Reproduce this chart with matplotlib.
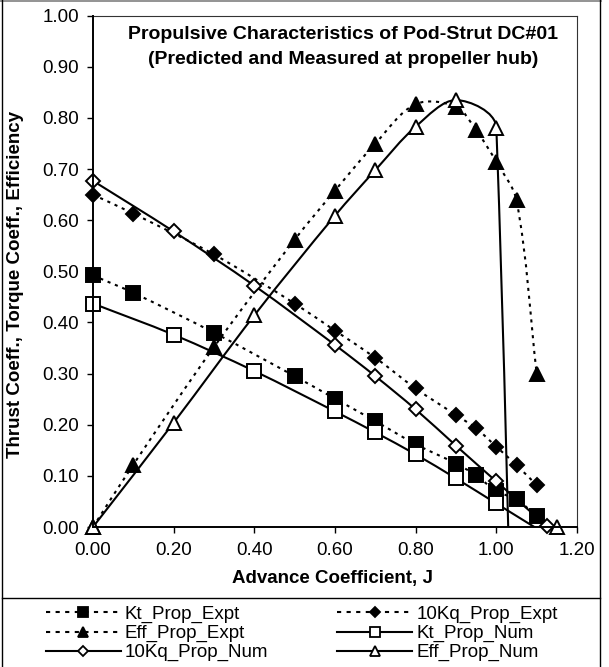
import numpy as np
import matplotlib
matplotlib.use("Agg")
import matplotlib.pyplot as plt
from matplotlib.path import Path
from matplotlib.patches import PathPatch
from matplotlib.lines import Line2D

# ---------------- data ----------------
J_expt = [0.0, 0.1, 0.3, 0.5, 0.6, 0.7, 0.8, 0.9, 0.95, 1.0, 1.05, 1.1]
kt_expt = [0.492, 0.458, 0.380, 0.295, 0.251, 0.207, 0.162, 0.124, 0.101, 0.070, 0.054, 0.021]
kq10_expt = [0.650, 0.613, 0.533, 0.437, 0.384, 0.331, 0.271, 0.219, 0.193, 0.157, 0.121, 0.082]
eff_expt = [0.0, 0.122, 0.352, 0.562, 0.658, 0.750, 0.827, 0.822, 0.776, 0.714, 0.639, 0.300]

J_num = [0.0, 0.2, 0.4, 0.6, 0.7, 0.8, 0.9, 1.0, 1.125]
kt_num = [0.437, 0.376, 0.305, 0.226, 0.185, 0.142, 0.095, 0.046, -0.015]
kq10_num = [0.677, 0.578, 0.472, 0.356, 0.295, 0.230, 0.159, 0.089, 0.002]
J_eff_num = [0.0, 0.2, 0.4, 0.6, 0.7, 0.8, 0.9, 1.0, 1.125, 1.15]
eff_num = [0.0, 0.204, 0.414, 0.609, 0.698, 0.783, 0.835, 0.781, -4.0, 0.0]

x_ticks = [0.0, 0.2, 0.4, 0.6, 0.8, 1.0, 1.2]
y_ticks = [0.0, 0.1, 0.2, 0.3, 0.4, 0.5, 0.6, 0.7, 0.8, 0.9, 1.0]

title_lines = ["Propulsive Characteristics of Pod-Strut DC#01",
               "(Predicted and Measured at propeller hub)"]
x_label = "Advance Coefficient, J"
y_label = "Thrust Coeff., Torque Coeff., Efficiency"

# ---------------- layout ----------------
W, H = 609, 667
DPI = 100
plt.rcParams['font.family'] = ['Liberation Sans', 'DejaVu Sans']

fig = plt.figure(figsize=(W / DPI, H / DPI), dpi=DPI)

def fx(px):
    return px / W

def fy(py):
    return 1 - py / H

ax_l, ax_r, ax_t, ax_b = 93, 577, 15.7, 527
ax = fig.add_axes([fx(ax_l), fy(ax_b), fx(ax_r - ax_l), (ax_b - ax_t) / H])
ax.set_xlim(0, 1.2)
ax.set_ylim(0, 1.0)
ax.set_xticks(x_ticks)
ax.set_yticks(y_ticks)
ax.set_xticklabels([f"{v:.2f}" for v in x_ticks])
ax.set_yticklabels([f"{v:.2f}" for v in y_ticks])
ax.tick_params(direction='out', length=4, width=1.0, labelsize=13.5, color='black')
ax.tick_params(axis='y', pad=6)
ax.tick_params(axis='x', pad=7)
for s in ['left', 'bottom']:
    ax.spines[s].set_linewidth(1.4)
    ax.spines[s].set_color('black')
for s in ['top', 'right']:
    ax.spines[s].set_linewidth(0.8)
    ax.spines[s].set_color('#333333')
ax.spines['left'].set_zorder(30)
ax.spines['bottom'].set_zorder(30)


def smooth_patch(xs, ys, **kw):
    pts = ax.transData.transform(np.column_stack([xs, ys]))
    n = len(pts)
    verts = [pts[0]]
    codes = [Path.MOVETO]
    for i in range(n - 1):
        p0 = pts[i - 1] if i > 0 else pts[i]
        p1 = pts[i]
        p2 = pts[i + 1]
        p3 = pts[i + 2] if i + 2 < n else pts[i + 1]
        d01 = np.hypot(*(p1 - p0))
        d12 = np.hypot(*(p2 - p1))
        d23 = np.hypot(*(p3 - p2))
        f1 = d12 / (d01 + d12) / 3 if d01 + d12 > 0 else 0
        f2 = d12 / (d12 + d23) / 3 if d12 + d23 > 0 else 0
        c1 = p1 + (p2 - p0) * f1
        c2 = p2 - (p3 - p1) * f2
        verts += [c1, c2, p2]
        codes += [Path.CURVE4] * 3
    verts = ax.transData.inverted().transform(np.array(verts))
    patch = PathPatch(Path(verts, codes), fill=False, **kw)
    ax.add_patch(patch)
    return patch


DOT = (0, (1.5, 2.3))
LEG_DOT = (0, (2.0, 2.6))
series = [
    (J_expt, kt_expt, 's', 'black', DOT, 9.5, 'Kt_Prop_Expt'),
    (J_expt, kq10_expt, 'D', 'black', DOT, 7.0, '10Kq_Prop_Expt'),
    (J_expt, eff_expt, '^', 'black', DOT, 10.5, 'Eff_Prop_Expt'),
    (J_num, kt_num, 's', 'white', '-', 9.5, 'Kt_Prop_Num'),
    (J_num, kq10_num, 'D', 'white', '-', 7.0, '10Kq_Prop_Num'),
    (J_eff_num, eff_num, '^', 'white', '-', 10.5, 'Eff_Prop_Num'),
]

handles = {}
z = 2
for xs, ys, mk, fc, ls, ms, lab in series:
    smooth_patch(xs, ys, edgecolor='black', linewidth=1.5, linestyle=ls, zorder=z,
                 capstyle='butt')
    ym = np.array(ys, dtype=float)
    ym = np.where((ym < 0) | (ym > 1.0), np.nan, ym)
    ax.plot(xs, ym, linestyle='none', marker=mk, markersize=ms, markerfacecolor=fc,
            markeredgecolor='black', markeredgewidth=1.4, clip_on=False, zorder=z + 1)
    handles[lab] = Line2D([], [], color='black', linewidth=1.5,
                          linestyle=(LEG_DOT if ls != '-' else '-'),
                          marker=mk, markersize=ms * 0.75, markerfacecolor=fc,
                          markeredgecolor='black', markeredgewidth=1.3,
                          dash_capstyle='butt')
    z += 2

# title inside plot
tx = (343 - ax_l) / (ax_r - ax_l) * 1.2
ax.text(tx, 1 - (35 - ax_t) / (ax_b - ax_t), title_lines[0],
        ha='center', va='center', fontsize=14, fontweight='bold', transform=ax.transData)
ax.text(tx, 1 - (60 - ax_t) / (ax_b - ax_t), title_lines[1],
        ha='center', va='center', fontsize=14, fontweight='bold', transform=ax.transData)

fig.text(fx(333), fy(579), x_label, ha='center', va='center', fontsize=13.5, fontweight='bold')
fig.text(fx(16), fy(284), y_label, ha='center', va='center', fontsize=13.5,
         fontweight='bold', rotation=90)

# chart and legend borders
fig.add_artist(Line2D([fx(0), fx(601)], [fy(0.6), fy(0.6)], color='#808080', lw=1.2))
fig.add_artist(Line2D([fx(2), fx(2)], [fy(0), fy(667)], color='black', lw=1.0))
fig.add_artist(Line2D([fx(600), fx(600)], [fy(0), fy(667)], color='black', lw=1.0))
fig.add_artist(Line2D([fx(2), fx(600)], [fy(598), fy(598)], color='black', lw=1.0))

order = ['Kt_Prop_Expt', 'Eff_Prop_Expt', '10Kq_Prop_Num',
         '10Kq_Prop_Expt', 'Kt_Prop_Num', 'Eff_Prop_Num']
leg = fig.legend([handles[k] for k in order], order, ncol=2, loc='upper left',
                 bbox_to_anchor=(fx(42), fy(602)), frameon=False, fontsize=13.5,
                 handlelength=4.0, handletextpad=0.2, columnspacing=3.7,
                 labelspacing=0.1, borderpad=0.2, borderaxespad=0)

fig.savefig('out.png', dpi=DPI)
